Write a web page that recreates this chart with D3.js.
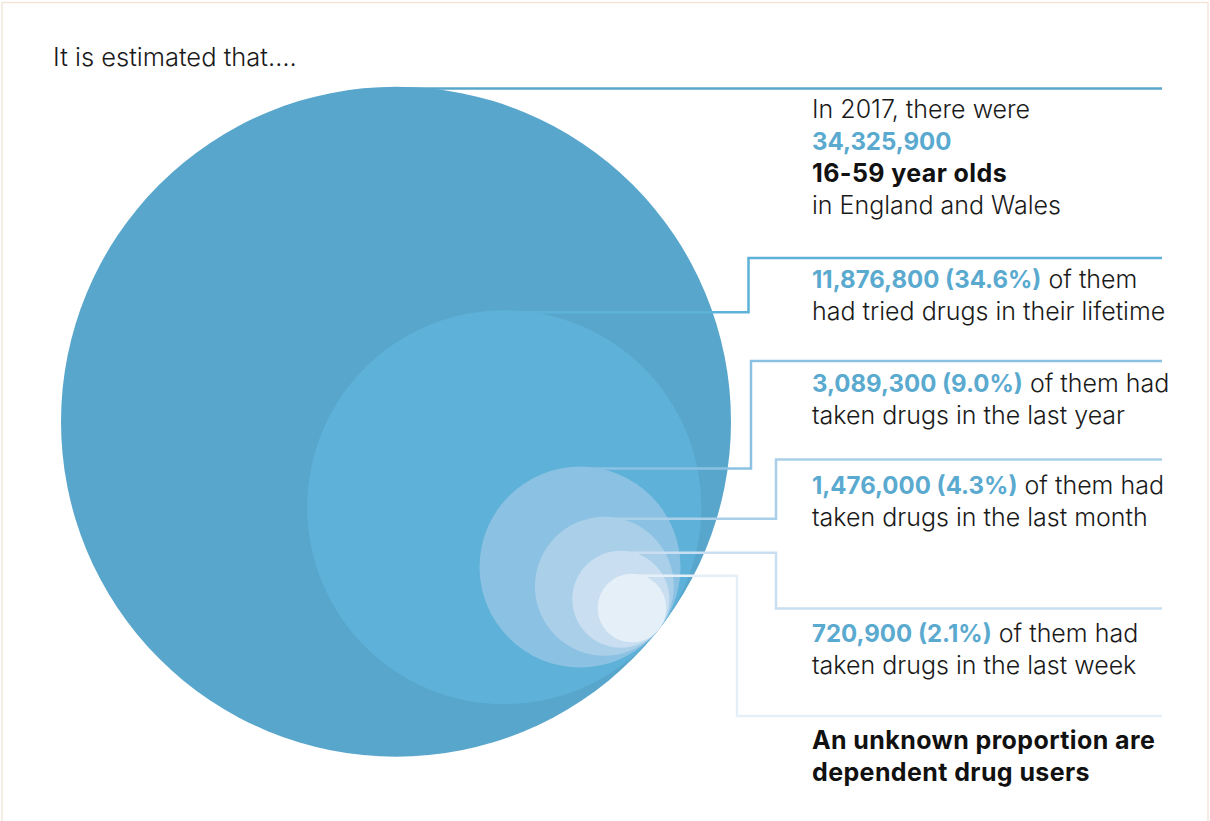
<!DOCTYPE html>
<html>
<head>
<meta charset="utf-8">
<script src="https://cdn.jsdelivr.net/npm/d3@7"></script>
<style>
  html, body { margin: 0; padding: 0; background: #fff; }
  svg { display: block; font-family: Inter, "Noto Sans", sans-serif; }
</style>
</head>
<body>
<svg id="chart" width="1210" height="821"></svg>
<script>
// values (people, 16-59, England and Wales 2017)
var groups = ['population', 'lifetime', 'lastYear', 'lastMonth', 'lastWeek', 'dependent'];
var counts = [34325900, 11876800, 3089300, 1476000, 720900, 360000]; // last one unknown, illustrative only
var countLabels = ['34,325,900', '11,876,800', '3,089,300', '1,476,000', '720,900', ''];
var pctLabels = ['', '(34.6%)', '(9.0%)', '(4.3%)', '(2.1%)', ''];
var colors = ['#58a6cb', '#5eb1d8', '#8bc1e2', '#aacfe9', '#c9dff1', '#e5eff8'];

// text next to each circle: array of lines, each line an array of [text, style]
var labels = [
  [[['In 2017, there were', 'r']], [['34,325,900', 'b']], [['16-59 year olds', 'k']], [['in England and Wales', 'r']]],
  [[['11,876,800 (34.6%)', 'b'], [' of them', 'r']], [['had tried drugs in their lifetime', 'r']]],
  [[['3,089,300 (9.0%)', 'b'], [' of them had', 'r']], [['taken drugs in the last year', 'r']]],
  [[['1,476,000 (4.3%)', 'b'], [' of them had', 'r']], [['taken drugs in the last month', 'r']]],
  [[['720,900 (2.1%)', 'b'], [' of them had', 'r']], [['taken drugs in the last week', 'r']]],
  [[['An unknown proportion are', 'k']], [['dependent drug users', 'k']]]
];

var svg = d3.select('#chart');

// 外框
svg.append('rect')
  .attr('x', 2).attr('y', 2.5)
  .attr('width', 1206).attr('height', 830)
  .attr('fill', 'none')
  .attr('stroke', '#f2e6da')
  .attr('stroke-width', 1.5);

svg.append('text')
  .attr('x', 53).attr('y', 66)
  .attr('font-size', 25.5)
  .attr('font-weight', 300)
  .attr('fill', '#1a1a1a')
  .text('It is estimated that\u2026.');

// layout
var cx0 = 396, cy0 = 421.7,
    angle = 38.3 * Math.PI / 180,
    lineEnd = 1162,
    textX = 812;

var r = d3.scaleSqrt()
  .domain([0, counts[0]])
  .range([0, 335]);

// all circles touch the big one at the same point
var tx = cx0 + r(counts[0]) * Math.cos(angle),
    ty = cy0 + r(counts[0]) * Math.sin(angle);

var nodes = counts.map(function(c, i) {
  var rr = r(c);
  return {
    key: groups[i],
    r: rr,
    cx: tx - rr * Math.cos(angle),
    cy: ty - rr * Math.sin(angle),
    color: colors[i]
  };
});

// where each leader line turns and where its label sits
var elbowX = [null, 748.5, 751, 776, 776, 737];
var rowY = [88.5, 258, 361, 459.5, 608.5, 716];
var textY = [118, 288, 392, 494, 642, 749];

var g = svg.append('g');

nodes.forEach(function(d, i) {
  // leader line (drawn under its own circle)
  var y0 = d.cy - d.r + 2;
  var pts;
  if (i === 0) {
    pts = [[d.cx, rowY[0]], [lineEnd, rowY[0]]];
  } else {
    pts = [[d.cx, y0], [elbowX[i], y0], [elbowX[i], rowY[i]], [lineEnd, rowY[i]]];
  }
  g.append('path')
    .attr('d', d3.line()(pts))
    .attr('fill', 'none')
    .attr('stroke', d.color)
    .attr('stroke-width', 2.5);

  g.append('circle')
    .attr('cx', d.cx)
    .attr('cy', d.cy)
    .attr('r', d.r)
    .attr('fill', d.color);
});

// 文字
var styleOf = {
  r: { w: 300, c: '#1a1a1a', ls: 0, fs: 25 },
  b: { w: 700, c: '#5aaad0', ls: 0, fs: 24 },
  k: { w: 700, c: '#111111', ls: 0.4, fs: 25 }
};

labels.forEach(function(lines, i) {
  var t = svg.append('text')
    .attr('x', textX)
    .attr('y', textY[i]);
  lines.forEach(function(parts, j) {
    parts.forEach(function(p, k) {
      var st = styleOf[p[1]];
      var s = t.append('tspan')
        .attr('font-size', st.fs)
        .attr('font-weight', st.w)
        .attr('fill', st.c)
        .attr('letter-spacing', st.ls)
        .style('white-space', 'pre')
        .text(p[0]);
      if (k === 0) s.attr('x', textX).attr('dy', j === 0 ? 0 : 32);
    });
  });
});
</script>
</body>
</html>
